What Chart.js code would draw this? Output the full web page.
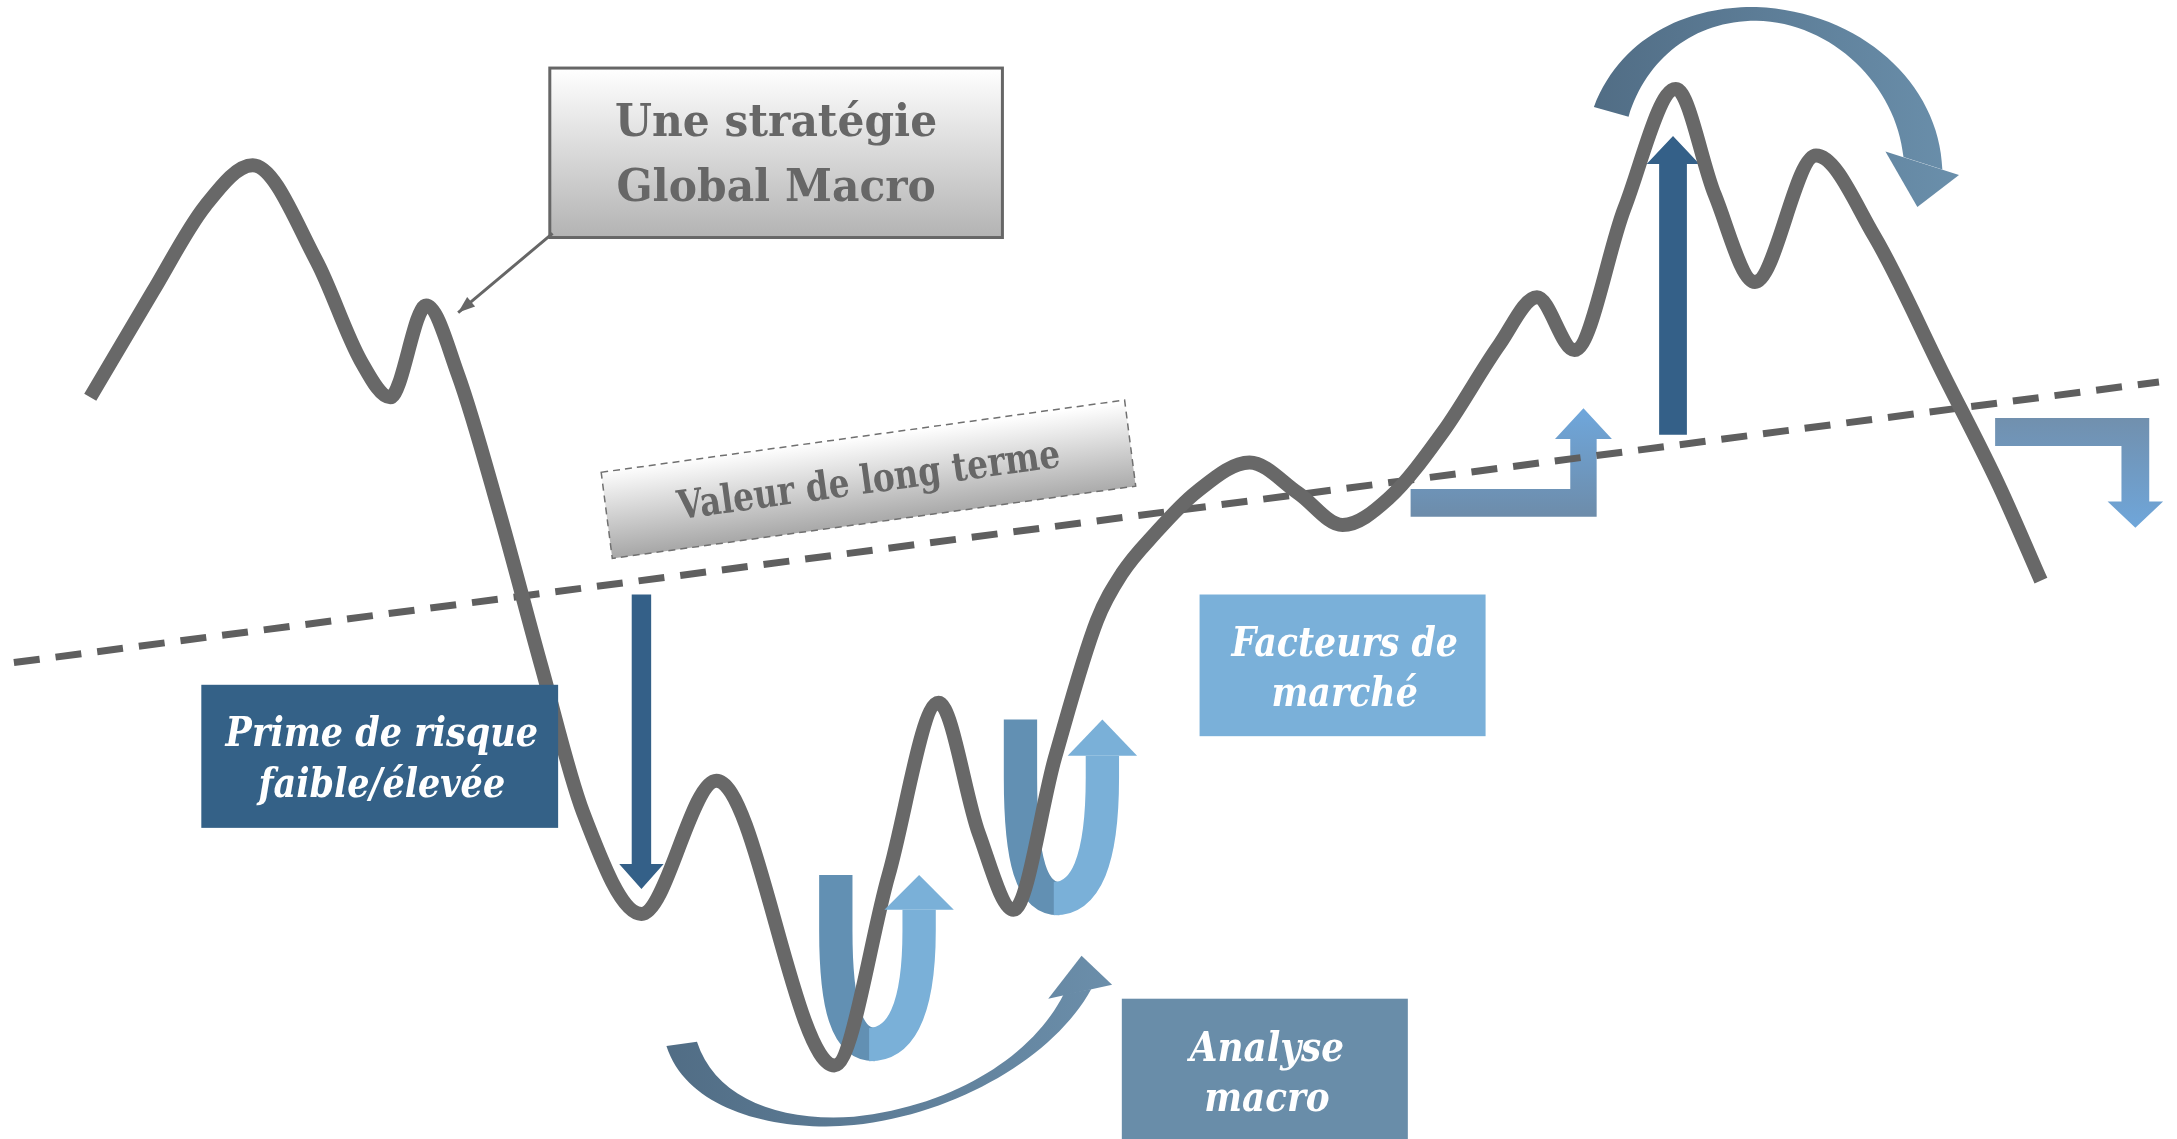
<!DOCTYPE html>
<html lang="fr">
<head>
<meta charset="utf-8">
<title>Une stratégie Global Macro</title>
<script src="https://cdn.jsdelivr.net/npm/chart.js@4.4.1/dist/chart.umd.min.js"></script>
<style>
  html, body { margin: 0; padding: 0; background: #fff; }
  #wrap { width: 2177px; height: 1139px; position: relative; }
</style>
</head>
<body>
<div id="wrap"><canvas id="chart"></canvas></div>
<script>
// Price path of the market (time, value)
const pathX = [65, 110, 148, 182, 228, 260, 281, 307, 330, 360, 390, 420, 462, 516, 601, 640, 676, 705, 730,
               760, 790, 808, 832, 862, 900, 935, 967, 1000, 1040, 1080, 1107, 1134, 1170, 1207, 1235, 1264, 1308, 1350, 1400, 1440, 1470];
const pathY = [534, 610, 672, 701, 632, 560, 534, 600, 550, 450, 340, 235, 162, 258, 53, 190, 314, 220, 165,
               275, 373, 407, 436, 466, 487, 465, 442, 461, 510, 572, 606, 568, 670, 756, 680, 617, 708, 650, 550, 470, 402];

// Long-term value (dashed trend)
const trendX = [10, 1555];
const trendY = [343, 545];

// Labels
const titleLines = ['Une stratégie', 'Global Macro'];
const trendLabel = 'Valeur de long terme';
const riskLines = ['Prime de risque', 'faible/élevée'];
const marketLines = ['Facteurs de', 'marché'];
const macroLines = ['Analyse', 'macro'];

const SERIF = '"DejaVu Serif", "Liberation Serif", serif';

// draw a path given commands in chart units
function trace(ctx, P, cmds) {
    ctx.beginPath();
    cmds.forEach(c => {
        const p = [];
        for (let i = 1; i < c.length; i += 2) p.push(...P(c[i], c[i + 1]));
        if (c[0] === 'M') ctx.moveTo(...p);
        else if (c[0] === 'L') ctx.lineTo(...p);
        else if (c[0] === 'C') ctx.bezierCurveTo(...p);
        else ctx.closePath();
    });
}

function poly(ctx, P, pts) {
    ctx.beginPath();
    pts.forEach((p, i) => {
        const q = P(p[0], p[1]);
        if (i === 0) ctx.moveTo(q[0], q[1]); else ctx.lineTo(q[0], q[1]);
    });
    ctx.closePath();
}

function hGrad(ctx, P, x0, x1, c0, c1) {
    const g = ctx.createLinearGradient(P(x0, 0)[0], 0, P(x1, 0)[0], 0);
    g.addColorStop(0, c0); g.addColorStop(1, c1);
    return g;
}

function vGrad(ctx, P, v0, v1, c0, c1) {
    const g = ctx.createLinearGradient(0, P(0, v0)[1], 0, P(0, v1)[1]);
    g.addColorStop(0, c0); g.addColorStop(1, c1);
    return g;
}

// lines of text: size from cap height, squeezed so the first line has the given width
function label(ctx, P, unit, lines, cx, baselines, cap, width, color, style) {
    const size = cap * unit / 0.73;
    ctx.font = style + ' ' + size.toFixed(1) + 'px ' + SERIF;
    const sx = Math.min(1, width * unit / ctx.measureText(lines[0]).width);
    ctx.fillStyle = color;
    ctx.textAlign = 'center';
    ctx.textBaseline = 'alphabetic';
    lines.forEach((t, i) => {
        const q = P(cx, baselines[i]);
        ctx.save();
        ctx.translate(q[0], q[1]);
        ctx.scale(sx, 1);
        ctx.fillText(t, 0, 0);
        ctx.restore();
    });
}

function rectBox(ctx, P, x0, x1, top, bottom, fill) {
    const a = P(x0, top), b = P(x1, bottom);
    ctx.fillStyle = fill;
    ctx.fillRect(a[0], a[1], b[0] - a[0], b[1] - a[1]);
}

// ribbon-style U turn arrow (dark half goes under the price line)
function uTurnDark(ctx, P, unit, u) {
    ctx.lineWidth = 24 * unit;
    ctx.lineCap = 'butt';
    ctx.strokeStyle = '#6290b3';
    trace(ctx, P, [['M', u.l, u.top], ['L', u.l, u.mid], ['C', u.l, u.low, u.l + 8, u.bot, u.l + 28, u.bot]]);
    ctx.stroke();
}

function uTurnLight(ctx, P, unit, u) {
    ctx.lineWidth = 24 * unit;
    ctx.lineCap = 'butt';
    ctx.strokeStyle = '#7ab0d8';
    trace(ctx, P, [['M', u.l + 24, u.bot], ['C', u.r - 12, u.bot, u.r, u.low, u.r, u.mid], ['L', u.r, u.head]]);
    ctx.stroke();
    ctx.fillStyle = '#7ab0d8';
    poly(ctx, P, [[u.r - 25, u.head], [u.r + 25, u.head], [u.r, u.top]]);
    ctx.fill();
}

const turnA = { l: 602, r: 662, top: 190, mid: 150, low: 95, bot: 68, head: 165 };
const turnB = { l: 735, r: 794, top: 302, mid: 260, low: 200, bot: 173, head: 276 };

const decorBelow = {
    id: 'decorBelow',
    beforeDatasetsDraw(chart) {
        const ctx = chart.ctx, xs = chart.scales.x, ys = chart.scales.y;
        const P = (x, v) => [xs.getPixelForValue(x), ys.getPixelForValue(v)];
        const unit = xs.getPixelForValue(1) - xs.getPixelForValue(0);
        ctx.save();

        // dark blue drop arrow
        ctx.fillStyle = '#346088';
        poly(ctx, P, [[455, 392], [469, 392], [469, 198], [478, 198], [462, 180], [446, 198], [455, 198]]);
        ctx.fill();

        // dark blue rise arrow
        poly(ctx, P, [[1195, 507], [1215, 507], [1215, 702], [1224, 702], [1205, 722], [1186, 702], [1195, 702]]);
        ctx.fill();

        // L arrow up
        ctx.fillStyle = vGrad(ctx, P, 448, 526, '#6d8caa', '#6fa7dc');
        poly(ctx, P, [[1016, 448], [1150, 448], [1150, 504], [1161, 504], [1140.5, 526], [1120, 504], [1131, 504], [1131, 468], [1016, 468]]);
        ctx.fill();

        // L arrow down
        ctx.fillStyle = vGrad(ctx, P, 519, 440, '#7190ae', '#6fa6da');
        poly(ctx, P, [[1437, 519], [1548, 519], [1548, 459], [1558, 459], [1538, 440], [1518, 459], [1528, 459], [1528, 499], [1437, 499]]);
        ctx.fill();

        // curved arrow under the lows
        ctx.fillStyle = hGrad(ctx, P, 480, 800, '#516d85', '#6b8eaa');
        trace(ctx, P, [['M', 480, 67], ['C', 495, 20, 560, 5, 615, 10], ['C', 690, 18, 760, 60, 786, 108],
                       ['L', 766, 104], ['C', 745, 62, 690, 24, 615, 16], ['C', 560, 12, 515, 30, 502, 70], ['Z']]);
        ctx.fill();
        poly(ctx, P, [[755, 101], [801, 111], [779, 132]]);
        ctx.fill();

        // curved arrow over the highs
        ctx.fillStyle = hGrad(ctx, P, 1148, 1410, '#516d85', '#6a8fab');
        trace(ctx, P, [['M', 1148, 743], ['C', 1170, 800, 1225, 816, 1265, 815], ['C', 1340, 812, 1397, 760, 1399, 698],
                       ['L', 1371, 707], ['C', 1366, 758, 1320, 804, 1265, 805], ['C', 1220, 805, 1186, 778, 1173, 736], ['Z']]);
        ctx.fill();
        poly(ctx, P, [[1358, 711], [1411, 694], [1381, 671]]);
        ctx.fill();

        uTurnDark(ctx, P, unit, turnA);
        uTurnDark(ctx, P, unit, turnB);
        ctx.restore();
    }
};

const decorAbove = {
    id: 'decorAbove',
    afterDatasetsDraw(chart) {
        const ctx = chart.ctx, xs = chart.scales.x, ys = chart.scales.y;
        const P = (x, v) => [xs.getPixelForValue(x), ys.getPixelForValue(v)];
        const unit = xs.getPixelForValue(1) - xs.getPixelForValue(0);
        ctx.save();

        uTurnLight(ctx, P, unit, turnA);
        uTurnLight(ctx, P, unit, turnB);

        // title box
        const t0 = P(396, 771), t1 = P(722, 649);
        ctx.fillStyle = vGrad(ctx, P, 771, 649, '#ffffff', '#b3b3b3');
        ctx.fillRect(t0[0], t0[1], t1[0] - t0[0], t1[1] - t0[1]);
        ctx.strokeStyle = '#666666';
        ctx.lineWidth = 3;
        ctx.strokeRect(t0[0], t0[1], t1[0] - t0[0], t1[1] - t0[1]);
        label(ctx, P, unit, titleLines, 559, [722, 675], 24, 232, '#676767', 'bold');

        // pointer from the title to the curve
        const a = P(398, 652), b = P(330, 595);
        ctx.lineWidth = 3;
        ctx.beginPath(); ctx.moveTo(a[0], a[1]); ctx.lineTo(b[0], b[1]); ctx.stroke();
        const ang = Math.atan2(b[1] - a[1], b[0] - a[0]);
        ctx.fillStyle = '#666666';
        ctx.beginPath();
        ctx.moveTo(b[0], b[1]);
        ctx.lineTo(b[0] - 18 * Math.cos(ang - 0.35), b[1] - 18 * Math.sin(ang - 0.35));
        ctx.lineTo(b[0] - 18 * Math.cos(ang + 0.35), b[1] - 18 * Math.sin(ang + 0.35));
        ctx.closePath(); ctx.fill();

        // long-term value box (tilted)
        const tl = P(433, 480), tr = P(810, 532), br = P(818, 470), bl = P(441, 418);
        const g = ctx.createLinearGradient((tl[0] + tr[0]) / 2, (tl[1] + tr[1]) / 2, (bl[0] + br[0]) / 2, (bl[1] + br[1]) / 2);
        g.addColorStop(0, '#ffffff'); g.addColorStop(1, '#a9a9a9');
        ctx.fillStyle = g;
        ctx.beginPath();
        ctx.moveTo(tl[0], tl[1]); ctx.lineTo(tr[0], tr[1]); ctx.lineTo(br[0], br[1]); ctx.lineTo(bl[0], bl[1]);
        ctx.closePath(); ctx.fill();
        ctx.setLineDash([7, 5]);
        ctx.lineWidth = 1.5;
        ctx.strokeStyle = '#707070';
        ctx.stroke();
        ctx.setLineDash([]);
        const c = P(625.5, 475);
        ctx.save();
        ctx.translate(c[0], c[1]);
        ctx.rotate(Math.atan2(tr[1] - tl[1], tr[0] - tl[0]));
        label(ctx, (x, v) => [0, 10 * unit], unit, [trendLabel], 0, [0], 21, 278, '#676767', 'bold');
        ctx.restore();

        // coloured boxes
        rectBox(ctx, P, 145, 402, 327, 224, '#346187');
        label(ctx, P, unit, riskLines, 275, [283, 246], 22, 225, '#ffffff', 'italic bold');

        rectBox(ctx, P, 864, 1070, 392, 290, '#7ab0d9');
        label(ctx, P, unit, marketLines, 968.5, [348, 312], 21.5, 163, '#ffffff', 'italic bold');

        rectBox(ctx, P, 808, 1014, 101, -10, '#698da9');
        label(ctx, P, unit, macroLines, 912.5, [56, 20], 22, 111, '#ffffff', 'italic bold');

        ctx.restore();
    }
};

const chart = new Chart(document.getElementById('chart'), {
    type: 'line',
    data: {
        datasets: [
            {
                label: 'Marché',
                data: pathX.map((x, i) => ({ x: x, y: pathY[i] })),
                borderColor: '#686868',
                borderWidth: 14,
                borderCapStyle: 'butt',
                borderJoinStyle: 'round',
                cubicInterpolationMode: 'monotone',
                pointRadius: 0,
                fill: false,
                clip: false,
                order: 0
            },
            {
                label: trendLabel,
                data: trendX.map((x, i) => ({ x: x, y: trendY[i] })),
                borderColor: '#5f5f5f',
                borderWidth: 7,
                borderDash: [26, 16],
                pointRadius: 0,
                fill: false,
                clip: false,
                order: 1
            }
        ]
    },
    options: {
        responsive: true,
        maintainAspectRatio: false,
        animation: false,
        layout: { padding: 0 },
        plugins: {
            legend: { display: false },
            tooltip: { enabled: false }
        },
        scales: {
            x: { type: 'linear', min: 0, max: 1568, display: false },
            y: { type: 'linear', min: 0, max: 820, display: false }
        }
    },
    plugins: [decorBelow, decorAbove]
});
</script>
</body>
</html>
